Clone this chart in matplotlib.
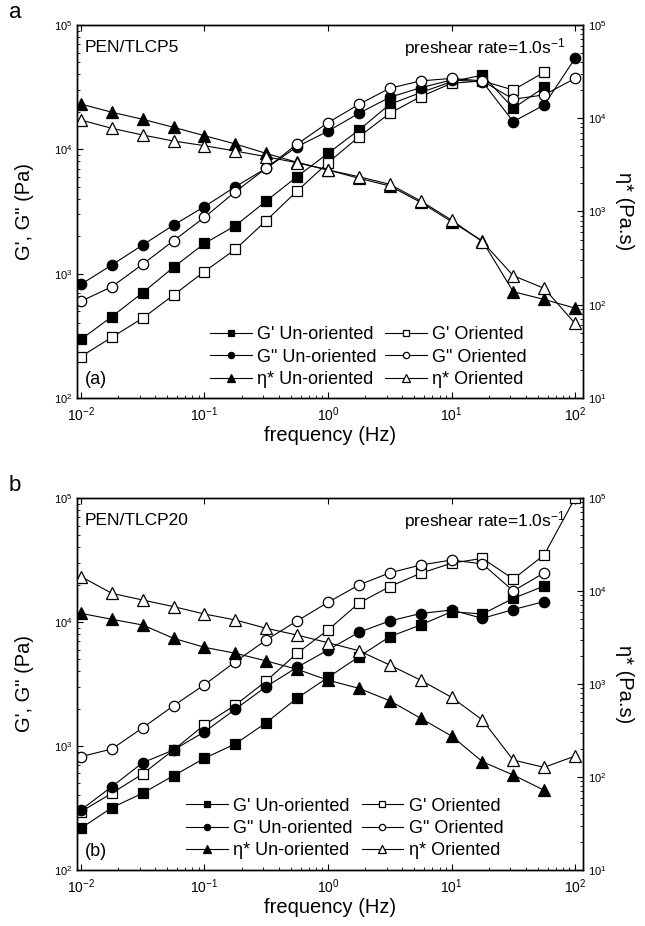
import numpy as np
import matplotlib.pyplot as plt
from matplotlib.ticker import LogLocator

plt.rcParams['font.family'] = ['Liberation Sans', 'DejaVu Sans']
plt.rcParams['mathtext.default'] = 'regular'

# frequency (Hz), 4 points per decade
freq = [0.01, 0.0178, 0.0316, 0.0562, 0.1, 0.178, 0.316, 0.562, 1.0,
        1.78, 3.16, 5.62, 10.0, 17.8, 31.6, 56.2, 100.0]

# panel (a) PEN/TLCP5
a_gp_un = [296, 451, 703, 1125, 1750, 2430, 3840, 6030, 9290,
           14300, 23000, 28600, 35000, 39600, 21400, 31500]
a_gp_or = [215, 308, 438, 673, 1040, 1570, 2670, 4620, 7810,
           12600, 19500, 26500, 34000, 35500, 30000, 41700]
a_gpp_un = [820, 1175, 1700, 2460, 3460, 5010, 7040, 10500, 14000,
            19500, 26200, 31300, 36100, 35000, 16700, 22700, 54000]
a_gpp_or = [600, 785, 1190, 1840, 2840, 4560, 7040, 11000, 16400,
            23000, 31000, 35500, 37200, 35500, 25300, 27400, 37200]
a_eta_un = [14200, 11600, 9750, 8000, 6500, 5300, 4200, 3370, 2790,
            2270, 1880, 1255, 778, 483, 138, 114, 92]
a_eta_or = [9570, 7800, 6610, 5700, 5080, 4450, 3870, 3330, 2790,
            2360, 1960, 1300, 810, 474, 205, 150, 63]

# panel (b) PEN/TLCP20
b_gp_un = [217, 318, 416, 576, 796, 1040, 1540, 2430, 3570,
           5250, 7610, 9460, 12100, 11600, 15500, 19500]
b_gp_or = [295, 416, 595, 929, 1480, 2140, 3340, 5600, 8620,
           14200, 19300, 24700, 29800, 32600, 22200, 34700, 100000]
b_gpp_un = [305, 470, 733, 929, 1300, 1980, 3010, 4310, 5950,
            8260, 10200, 11700, 12500, 10700, 12600, 14600]
b_gpp_or = [820, 946, 1400, 2110, 3120, 4780, 7160, 10200, 14400,
            19900, 24900, 28800, 31600, 29400, 17800, 24900]
b_eta_un = [5750, 4960, 4310, 3100, 2480, 2140, 1770, 1440, 1100,
            898, 661, 428, 276, 146, 105, 72]
b_eta_or = [14300, 9440, 8000, 6790, 5660, 4880, 3970, 3360, 2780,
            2280, 1600, 1100, 720, 410, 152, 127, 168]

labels = ["G' Un-oriented", 'G" Un-oriented', "\u03b7* Un-oriented",
          "G' Oriented", 'G" Oriented', "\u03b7* Oriented"]


def style_log_axis(ax):
    ax.tick_params(which='both', direction='in')
    ax.tick_params(which='major', length=4.5, width=0.8)
    ax.tick_params(which='minor', length=2.5, width=0.6)
    for s in ax.spines.values():
        s.set_linewidth(1.0)


def draw_panel(rect, letter, sample, data, leg_anchor):
    gp_un, gp_or, gpp_un, gpp_or, eta_un, eta_or = data
    ax = fig.add_axes(rect)
    ax2 = ax.twinx()
    ax.set_xscale('log')
    ax.set_yscale('log')
    ax2.set_yscale('log')

    kw = dict(color='black', lw=0.8, markeredgecolor='black', markeredgewidth=0.9)
    h1, = ax.plot(freq[:len(gp_un)], gp_un, marker='s', ms=7, mfc='black', **kw)
    h4, = ax.plot(freq[:len(gp_or)], gp_or, marker='s', ms=7, mfc='white', **kw)
    h2, = ax.plot(freq[:len(gpp_un)], gpp_un, marker='o', ms=7.5, mfc='black', **kw)
    h5, = ax.plot(freq[:len(gpp_or)], gpp_or, marker='o', ms=7.5, mfc='white', **kw)
    h3, = ax2.plot(freq[:len(eta_un)], eta_un, marker='^', ms=8.5, mfc='black', **kw)
    h6, = ax2.plot(freq[:len(eta_or)], eta_or, marker='^', ms=8.5, mfc='white', **kw)

    ax.set_xlim(0.0093, 116)
    ax.set_ylim(1e2, 1e5)
    ax2.set_ylim(1e1, 1e5)
    ax.xaxis.set_major_locator(LogLocator(base=10, numticks=10))
    ax.xaxis.set_minor_locator(LogLocator(base=10, subs=np.arange(2, 10), numticks=20))
    ax.yaxis.set_minor_locator(LogLocator(base=10, subs=np.arange(2, 10), numticks=20))
    ax2.yaxis.set_minor_locator(LogLocator(base=10, subs=np.arange(2, 10), numticks=20))
    style_log_axis(ax)
    style_log_axis(ax2)
    ax.tick_params(top=True)
    ax.tick_params(axis='x', labelsize=10, pad=5)
    ax.tick_params(axis='y', labelsize=8)
    ax2.tick_params(axis='y', labelsize=8)

    ax.set_xlabel('frequency (Hz)', fontsize=14.5, labelpad=2)
    ax.set_ylabel("G', G\" (Pa)", fontsize=14.5, labelpad=14)
    ax2.set_ylabel('\u03b7* (Pa.s)', fontsize=14.5, rotation=270, labelpad=20)

    ax.text(0.016, 0.94, sample, transform=ax.transAxes, fontsize=12.5, va='center')
    ax.text(0.965, 0.94, 'preshear rate=1.0s$^{-1}$', transform=ax.transAxes,
            fontsize=12.5, va='center', ha='right')
    ax.text(0.016, 0.05, '(' + letter + ')', transform=ax.transAxes,
            fontsize=13, va='center')
    fig.text(0.014, rect[1] + rect[3] + 0.014, letter, fontsize=16, va='center')

    ax2.legend([h1, h2, h3, h4, h5, h6], labels, ncol=2, frameon=False,
               loc='lower left', bbox_to_anchor=leg_anchor, fontsize=13,
               markerscale=0.6, handlelength=2.3, handletextpad=0.3,
               columnspacing=0.5, labelspacing=0.3, borderpad=0)


fig = plt.figure(figsize=(6.45, 9.26), dpi=100)
draw_panel([0.1194, 0.5702, 0.7845, 0.4028], 'a', 'PEN/TLCP5',
           [a_gp_un, a_gp_or, a_gpp_un, a_gpp_or, a_eta_un, a_eta_or], (0.245, 0.002))
draw_panel([0.1194, 0.0605, 0.7845, 0.4017], 'b', 'PEN/TLCP20',
           [b_gp_un, b_gp_or, b_gpp_un, b_gpp_or, b_eta_un, b_eta_or], (0.198, 0.004))

fig.savefig('out.png', dpi=100)
